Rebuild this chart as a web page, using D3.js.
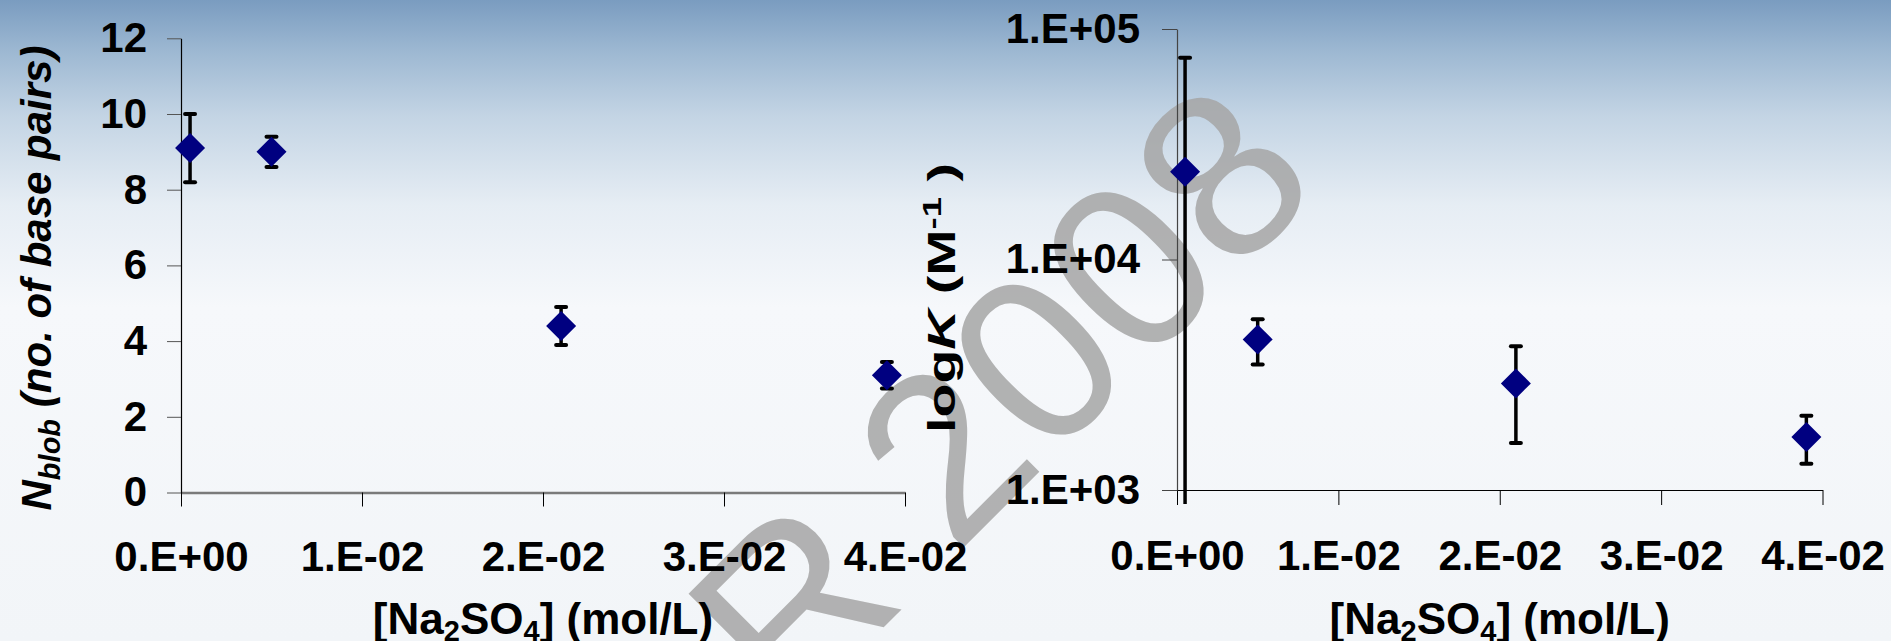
<!DOCTYPE html>
<html>
<head>
<meta charset="utf-8">
<script src="https://cdn.jsdelivr.net/npm/d3@7"></script>
<style>
  html, body { margin: 0; padding: 0; overflow: hidden; background: #fff; }
  svg { display: block; }
  text { font-family: "Liberation Sans", Arial, sans-serif; font-weight: bold; fill: #000; }
</style>
</head>
<body>
<svg id="chart"></svg>
<script>
// salt concentration (mol/L) shared by both panels
var concentration = [0.0005, 0.005, 0.021, 0.039];

// left panel: N_blob (no. of base pairs)
var nBlob    = [9.1, 9.0, 4.4, 3.1];
var nBlobErr = [0.9, 0.4, 0.5, 0.35];

// right panel: K (M^-1), log scale
var kValues = [24000, 4500, 2900, 1700];
var kErr    = [51000, 1000, 1300, 400];

var xTicks      = [0, 0.01, 0.02, 0.03, 0.04];
var xTickLabels = ["0.E+00", "1.E-02", "2.E-02", "3.E-02", "4.E-02"];
var nTicks      = [0, 2, 4, 6, 8, 10, 12];
var kTicks      = [1000, 10000, 100000];
var kTickLabels = ["1.E+03", "1.E+04", "1.E+05"];

var width = 1891, height = 641;

var svg = d3.select("#chart").attr("width", width).attr("height", height);

// slide background: blue at the top fading to white
var grad = svg.append("defs").append("linearGradient")
  .attr("id", "bg").attr("x1", 0).attr("y1", 0).attr("x2", 0).attr("y2", 1);
grad.append("stop").attr("offset", "0").attr("stop-color", "#7a9cc0");
grad.append("stop").attr("offset", "0.08").attr("stop-color", "#9db8d2");
grad.append("stop").attr("offset", "0.18").attr("stop-color", "#c3d4e4");
grad.append("stop").attr("offset", "0.32").attr("stop-color", "#e6edf4");
grad.append("stop").attr("offset", "0.48").attr("stop-color", "#f6f8fb");
grad.append("stop").attr("offset", "1").attr("stop-color", "#f2f5f8");
svg.append("rect").attr("width", width).attr("height", height).attr("fill", "url(#bg)");

// watermark, sits under the charts
svg.append("text")
  .attr("transform", "translate(1325,186) rotate(-45)")
  .attr("text-anchor", "end")
  .style("font-weight", "normal")
  .style("font-size", "235px")
  .style("fill", "#a6a6a6")
  .attr("opacity", 0.85)
  .text("R 2008");

// scales
var xL = d3.scaleLinear().domain([0, 0.04]).range([181, 905]);
var yL = d3.scaleLinear().domain([0, 12]).range([492.5, 38.3]);
var xR = d3.scaleLinear().domain([0, 0.04]).range([1177, 1822.5]);
var yR = d3.scaleLog().domain([1000, 100000]).range([490, 29]);

function styleAxis(g, domainColor, domainWidth, tickColor) {
  g.attr("font-family", null).attr("font-size", null);
  g.select(".domain").attr("stroke", domainColor).attr("stroke-width", domainWidth);
  g.selectAll(".tick line").attr("stroke", tickColor);
  g.selectAll(".tick text").style("font-size", "42px");
}

// left panel axes
svg.append("g")
  .attr("transform", "translate(0," + yL(0) + ")")
  .call(d3.axisBottom(xL).tickValues(xTicks)
    .tickFormat(function (d, i) { return xTickLabels[i] })
    .tickSize(14).tickSizeOuter(0).tickPadding(35))
  .call(styleAxis, "#7a7a7a", 2.5, "#000");

svg.append("g")
  .attr("transform", "translate(" + xL(0) + ",0)")
  .call(d3.axisLeft(yL).tickValues(nTicks)
    .tickSize(14).tickSizeOuter(0).tickPadding(20))
  .call(styleAxis, "#000", 1.2, "#555");

// right panel axes
svg.append("g")
  .attr("transform", "translate(0," + yR(1000) + ")")
  .call(d3.axisBottom(xR).tickValues(xTicks)
    .tickFormat(function (d, i) { return xTickLabels[i] })
    .tickSize(15).tickSizeOuter(0).tickPadding(35))
  .call(styleAxis, "#000", 1.2, "#000");

svg.append("g")
  .attr("transform", "translate(" + xR(0) + ",0)")
  .call(d3.axisLeft(yR).tickValues(kTicks)
    .tickFormat(function (d, i) { return kTickLabels[i] })
    .tickSize(15).tickSizeOuter(0).tickPadding(22))
  .call(styleAxis, "#444", 1.2, "#444");

// x axis titles: [Na2SO4] (mol/L)
function xTitle(cx) {
  var t = svg.append("text")
    .attr("x", cx).attr("y", 634)
    .attr("text-anchor", "middle")
    .style("font-size", "44px");
  t.append("tspan").text("[Na");
  t.append("tspan").attr("dy", 7).style("font-size", "29px").text("2");
  t.append("tspan").attr("dy", -7).text("SO");
  t.append("tspan").attr("dy", 7).style("font-size", "29px").text("4");
  t.append("tspan").attr("dy", -7).text("] (mol/L)");
}
xTitle((xL.range()[0] + xL.range()[1]) / 2);
xTitle((xR.range()[0] + xR.range()[1]) / 2);

// left y title
var yt = svg.append("text")
  .attr("transform", "translate(51,278) rotate(-90)")
  .attr("text-anchor", "middle")
  .style("font-size", "42px").style("font-style", "italic");
yt.append("tspan").text("N");
yt.append("tspan").attr("dy", 9).style("font-size", "29px").text("blob");
yt.append("tspan").attr("dy", -9).text(" (no. of base pairs)");

// right y title, drawn wide like the original slide
var rt = svg.append("g").attr("transform", "translate(955,298) rotate(-90)");
var rtText = rt.append("text")
  .attr("text-anchor", "middle")
  .style("font-size", "38px");
rtText.append("tspan").text("log");
rtText.append("tspan").style("font-style", "italic").text("K");
rtText.append("tspan").text("  (M");
rtText.append("tspan").attr("dy", -14).style("font-size", "25px").text("-1");
rtText.append("tspan").attr("dy", 14).text(" )");
var rtw = rtText.node().getBBox().width;
rtText.attr("transform", "scale(" + (270 / rtw) + ",1)");

// data points with error bars
function drawSeries(xs, ys, vals, errs, isLog) {
  var pts = concentration.map(function (c, i) {
    return { x: c, v: vals[i], e: errs[i] };
  });
  var bottom = ys.range()[0];
  var g = svg.append("g");
  pts.forEach(function (p) {
    var cx = xs(p.x);
    var top = ys(p.v + p.e);
    var lo = p.v - p.e;
    // on the log axis a negative lower end runs past the axis
    var low = (isLog && lo <= 0) ? bottom + 14 : ys(lo);
    g.append("line").attr("x1", cx).attr("x2", cx).attr("y1", top).attr("y2", low)
      .attr("stroke", "#000").attr("stroke-width", 3.5);
    g.append("line").attr("x1", cx - 5).attr("x2", cx + 5).attr("y1", top).attr("y2", top)
      .attr("stroke", "#000").attr("stroke-width", 4).attr("stroke-linecap", "round");
    if (low <= bottom) {
      g.append("line").attr("x1", cx - 5).attr("x2", cx + 5).attr("y1", low).attr("y2", low)
        .attr("stroke", "#000").attr("stroke-width", 4).attr("stroke-linecap", "round");
    }
  });
  g.selectAll("path.pt").data(pts).enter().append("path")
    .attr("class", "pt")
    .attr("d", d3.symbol(d3.symbolSquare, 450))
    .attr("transform", function (p) { return "translate(" + xs(p.x) + "," + ys(p.v) + ") rotate(45)" })
    .attr("fill", "#000080");
}

drawSeries(xL, yL, nBlob, nBlobErr, false);
drawSeries(xR, yR, kValues, kErr, true);
</script>
</body>
</html>
